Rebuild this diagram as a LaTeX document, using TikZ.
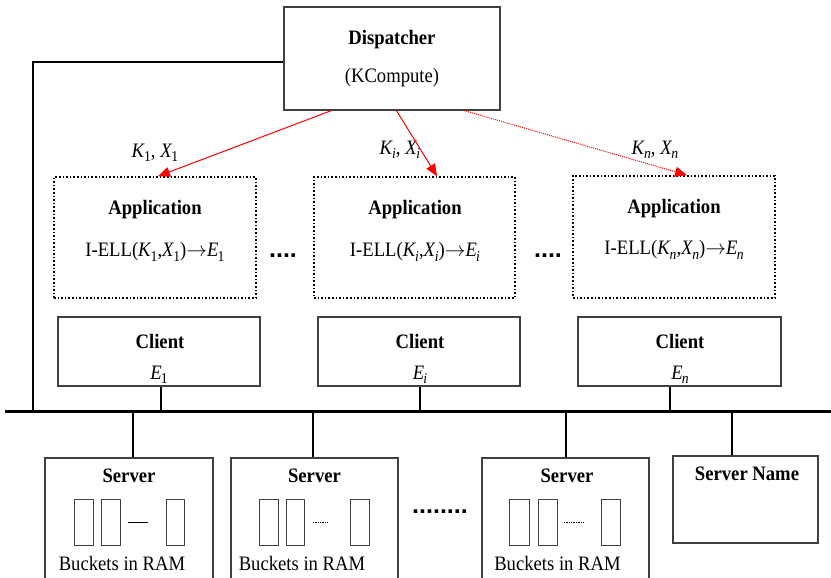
\documentclass[tikz,border=0pt]{standalone}
\usepackage{fontspec}
\setmainfont{Liberation Serif}[FakeStretch=0.91]
\setsansfont{Liberation Sans}
\usetikzlibrary{arrows.meta,calc}

% italic letter with a lowered index
\newcommand\isub[2]{\textit{#1}\kern-0.8pt\raisebox{-0.45ex}{\fontsize{15}{15}\selectfont #2}}

\begin{document}
\begin{tikzpicture}[x=1pt,y=-1pt,
  every node/.style={font=\fontsize{20.5}{24}\selectfont},
  box/.style={draw=black!75, line width=1.2pt, rectangle, inner sep=0pt},
  appbox/.style={draw=black, dotted, line width=1.6pt, rectangle, inner sep=0pt},
  txt/.style={inner sep=0pt},
  title/.style={inner sep=0pt, font=\fontsize{20.5}{24}\selectfont\bfseries},
  dots/.style={inner sep=0pt, font=\fontsize{25}{25}\selectfont\sffamily\bfseries},
  msg/.style={red, line width=1pt, -{Triangle[length=12pt,width=10pt]}},
  wire/.style={line width=2pt},
  bus/.style={line width=3pt},
  bucket/.style={draw=black!75, line width=0.9pt}
]
\clip (0,0) rectangle (831,578);
\fill[white] (0,0) rectangle (831,578);

% dispatcher
\node[box, minimum width=216, minimum height=103] (disp) at (392,58.5) {};
\node[title] (dispT) at (392,40) {Dispatcher};
\node[txt] (dispS) at (392,78) {(KCompute)};

% application boxes
\node[appbox, minimum width=202, minimum height=121] (app1) at (155,237.5) {};
\node[appbox, minimum width=201, minimum height=121] (app2) at (414.5,237.5) {};
\node[appbox, minimum width=202, minimum height=122] (app3) at (674,237) {};
\node[title] (app1T) at (155,210) {Application};
\node[title] (app2T) at (415,210) {Application};
\node[title] (app3T) at (674,209) {Application};
\node[txt] (app1F) at (155,252) {I-ELL(\isub{K}{1},\isub{X}{1})$\rightarrow$\isub{E}{1}};
\node[txt] (app2F) at (415,252) {I-ELL(\isub{K}{\textit{i}},\isub{X}{\textit{i}})$\rightarrow$\isub{E}{\textit{i}}};
\node[txt] (app3F) at (674,250) {I-ELL(\isub{K}{\textit{n}},\isub{X}{\textit{n}})$\rightarrow$\isub{E}{\textit{n}}};
\node[dots] (dotsA) at (283,256) {....};
\node[dots] (dotsB) at (548,256) {....};

% messages from the dispatcher
\node[txt] (lab1) at (155,153) {\isub{K}{1}, \isub{X}{1}};
\node[txt] (lab2) at (400,150) {\isub{K}{\textit{i}}, \isub{X}{\textit{i}}};
\node[txt] (lab3) at (655,150) {\isub{K}{\textit{n}}, \isub{X}{\textit{n}}};
\draw[msg] ($(disp.south west)+(48,0)$) -- ($(app1.north)+(3,0)$);
\draw[msg] ($(disp.south west)+(113,0)$) -- ($(app2.north)+(22.5,0)$);
\draw[msg, densely dotted] ($(disp.south west)+(181,0)$) -- ($(app3.north)+(13,0)$);

% clients
\node[box, minimum width=202, minimum height=69] (cl1) at (159,351.5) {};
\node[box, minimum width=202, minimum height=69] (cl2) at (419,351.5) {};
\node[box, minimum width=203, minimum height=69] (cl3) at (679.5,351.5) {};
\node[title] (cl1T) at (160,341) {Client};
\node[title] (cl2T) at (420,341) {Client};
\node[title] (cl3T) at (680,341) {Client};
\node[txt] (cl1E) at (159,375) {\isub{E}{1}};
\node[txt] (cl2E) at (420,375) {\isub{E}{\textit{i}}};
\node[txt] (cl3E) at (680,375) {\isub{E}{\textit{n}}};

% network bus
\coordinate (busL) at (5,411);
\coordinate (busR) at (831,411);
\coordinate (corner) at (33,62);
\draw[bus] (busL) -- (busR);
\draw[wire] (disp.west |- corner) -- (corner) -- (corner |- busL);

% client taps
\coordinate (tc1) at ($(cl1.south)+(2,0)$);
\coordinate (tc2) at ($(cl2.south)+(1,0)$);
\coordinate (tc3) at ($(cl3.south)+(-9.5,0)$);
\foreach \t in {tc1,tc2,tc3} \draw[wire] (\t) -- (\t |- busL);

% servers
\node[box, minimum width=168, minimum height=132] (sv1) at (129,524) {};
\node[box, minimum width=167, minimum height=132] (sv2) at (314.5,524) {};
\node[box, minimum width=167, minimum height=132] (sv3) at (565.5,524) {};
\node[box, minimum width=145, minimum height=87] (svn) at (745.5,499.5) {};
\coordinate (ts1) at ($(sv1.north)+(4,0)$);
\coordinate (ts2) at ($(sv2.north)+(-1.5,0)$);
\coordinate (ts3) at ($(sv3.north)+(0.5,0)$);
\coordinate (tsn) at ($(svn.north)+(-13.5,0)$);
\foreach \t in {ts1,ts2,ts3,tsn} \draw[wire] (\t) -- (\t |- busL);

\node[title] (sv1T) at (129,476) {Server};
\node[title] (sv2T) at (314.5,476) {Server};
\node[title] (sv3T) at (567,476) {Server};
\node[title] (svnT) at (747,474) {Server Name};
\node[txt] (sv1B) at (122,563) {Buckets in RAM};
\node[txt] (sv2B) at (302,563) {Buckets in RAM};
\node[txt] (sv3B) at (557.5,563) {Buckets in RAM};
\node[dots] (dotsC) at (440,512) {........};

% buckets
\draw[bucket] (74,499) rectangle (93,545) (101,499) rectangle (120,545) (166,499) rectangle (184,545);
\draw[line width=0.7pt] (128,522) -- (148,522);
\draw[bucket] (259,499) rectangle (278,545) (286,499) rectangle (304,545) (350,499) rectangle (369,545);
\draw[line width=0.7pt, densely dotted] (313,522) -- (328,522);
\draw[bucket] (509,499) rectangle (529,545) (538,499) rectangle (557,545) (601,499) rectangle (620,545);
\draw[line width=0.7pt, densely dotted] (564,522) -- (583,522);
\end{tikzpicture}
\end{document}
